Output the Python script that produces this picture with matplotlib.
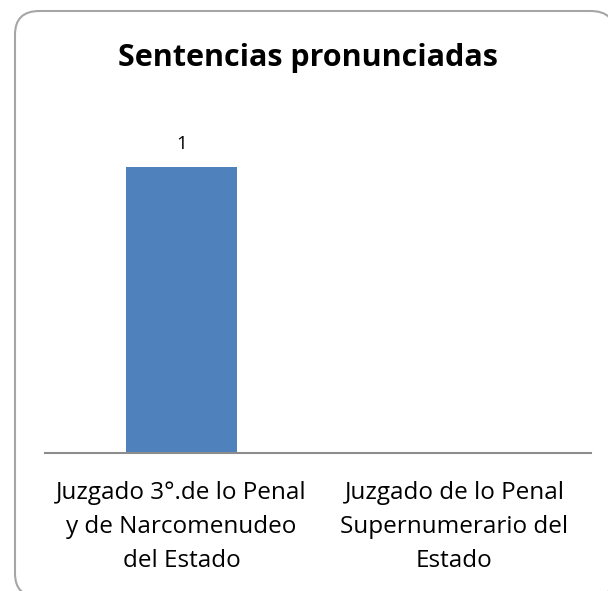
import matplotlib
matplotlib.use('Agg')
import matplotlib.pyplot as plt
from matplotlib.patches import FancyBboxPatch

categories = ['Juzgado 3°.de lo Penal\ny de Narcomenudeo\ndel Estado',
              'Juzgado de lo Penal\nSupernumerario del\nEstado']
values = [1, 0]
labels_shown = ['1', '']

plt.rcParams['font.family'] = ['Open Sans', 'DejaVu Sans']

fig = plt.figure(figsize=(6.08, 5.91), dpi=100)

# rounded chart border (runs a little past the right and bottom edges)
border = FancyBboxPatch((15 / 608, -6 / 591), 600 / 608, 586 / 591,
                        boxstyle='round,pad=0,rounding_size=0.04',
                        transform=fig.transFigure, facecolor='white',
                        edgecolor='#a6a6a6', linewidth=1.5, zorder=-5)
fig.patches.append(border)

ax = fig.add_axes([45 / 608, (591 - 453) / 591, 546 / 608, 343 / 591])
ax.set_facecolor('none')
x = range(len(categories))
bars = ax.bar(x, values, width=0.403, color='#4f81bd')
for b, lab in zip(bars, labels_shown):
    if lab:
        ax.text(b.get_x() + b.get_width() / 2, b.get_height() + 0.05, lab,
                ha='center', va='bottom', fontsize=13.5)

ax.set_xlim(-0.5, 1.5)
ax.set_ylim(0, 1.2)
ax.set_xticks(list(x))
ax.set_xticklabels(categories, fontsize=17.5, linespacing=1.55)
ax.tick_params(axis='x', length=0, pad=20)
ax.set_yticks([])
for s in ['top', 'right', 'left']:
    ax.spines[s].set_visible(False)
ax.spines['bottom'].set_color('#8c8c8c')
ax.spines['bottom'].set_linewidth(1.5)

fig.text(308 / 608, 1 - 58 / 591, 'Sentencias pronunciadas', ha='center',
         va='center', fontsize=22, fontweight='bold')

fig.savefig('out.png', dpi=100)
